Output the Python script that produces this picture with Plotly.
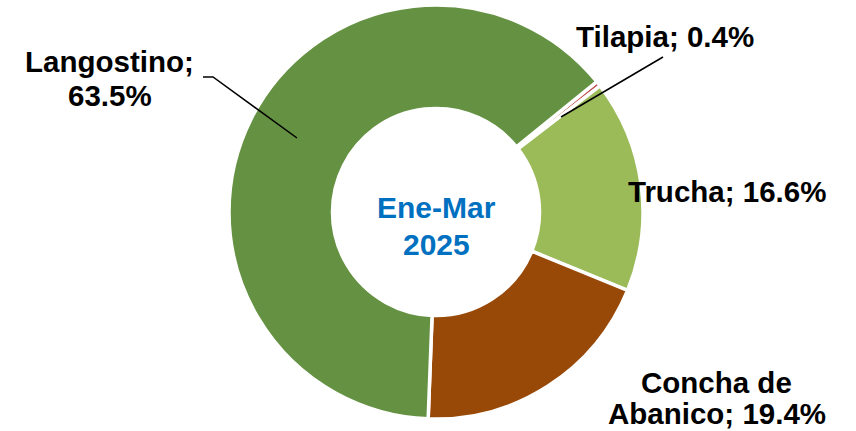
import plotly.graph_objects as go

# Data
categories = ["Tilapia", "Trucha", "Concha de Abanico", "Langostino"]
shares = [0.4, 16.6, 19.4, 63.5]
colors = ["#C0504D", "#9BBB59", "#984807", "#659142"]
center_lines = ["Ene-Mar", "2025"]

W, H = 856, 431

def px(x):
    return x / W

def py(y):
    return 1 - y / H

# Pie geometry (pixels)
cx, cy, R = 436, 212, 207

fig = go.Figure(go.Pie(
    labels=categories,
    values=shares,
    sort=False,
    direction="clockwise",
    rotation=51,
    hole=0.5,
    marker=dict(colors=colors, line=dict(color="white", width=3.5)),
    textinfo="none",
    hoverinfo="label+percent",
    showlegend=False,
    domain=dict(x=[px(cx - 260), px(cx + 260)], y=[py(cy + R), py(cy - R)]),
))

def fmt(name, v):
    return f"{name}; {v:.1f}%"

font = dict(family="Liberation Sans, Arial, sans-serif", size=29.5, color="black")

lab = {c: v for c, v in zip(categories, shares)}
label_lines = [
    ("Langostino;", 110, 62),
    (f"{lab['Langostino']:.1f}%", 110, 95),
    (fmt("Tilapia", lab["Tilapia"]), 665, 36),
    (fmt("Trucha", lab["Trucha"]), 727, 191),
    ("Concha de", 716, 382),
    (fmt("Abanico", lab["Concha de Abanico"]), 717, 413),
]
anns = []
for t, x, y in label_lines:
    anns.append(dict(text=f"<b>{t}</b>", x=px(x), y=py(y), xref="paper", yref="paper",
                     xanchor="center", yanchor="middle", showarrow=False, font=font))

for i, t in enumerate(center_lines):
    anns.append(dict(text=f"<b>{t}</b>", x=px(cx), y=py(207 + i * 37), xref="paper", yref="paper",
                     xanchor="center", yanchor="middle", showarrow=False,
                     font=dict(family="Liberation Sans, Arial, sans-serif", size=30, color="#0070C0")))

shapes = [
    dict(type="path", xref="paper", yref="paper",
         path=f"M {px(203)} {py(77)} L {px(213)} {py(77)} L {px(297)} {py(138)}",
         line=dict(color="black", width=1.5)),
    dict(type="line", xref="paper", yref="paper",
         x0=px(663), y0=py(57), x1=px(561), y1=py(117),
         line=dict(color="black", width=1.5)),
]

fig.update_layout(
    width=W, height=H,
    margin=dict(l=0, r=0, t=0, b=0),
    paper_bgcolor="white",
    plot_bgcolor="white",
    annotations=anns,
    shapes=shapes,
)

fig.write_html("out.html", config={"displayModeBar": False},
               post_script="document.body.style.margin='0';document.body.style.overflow='hidden';")
